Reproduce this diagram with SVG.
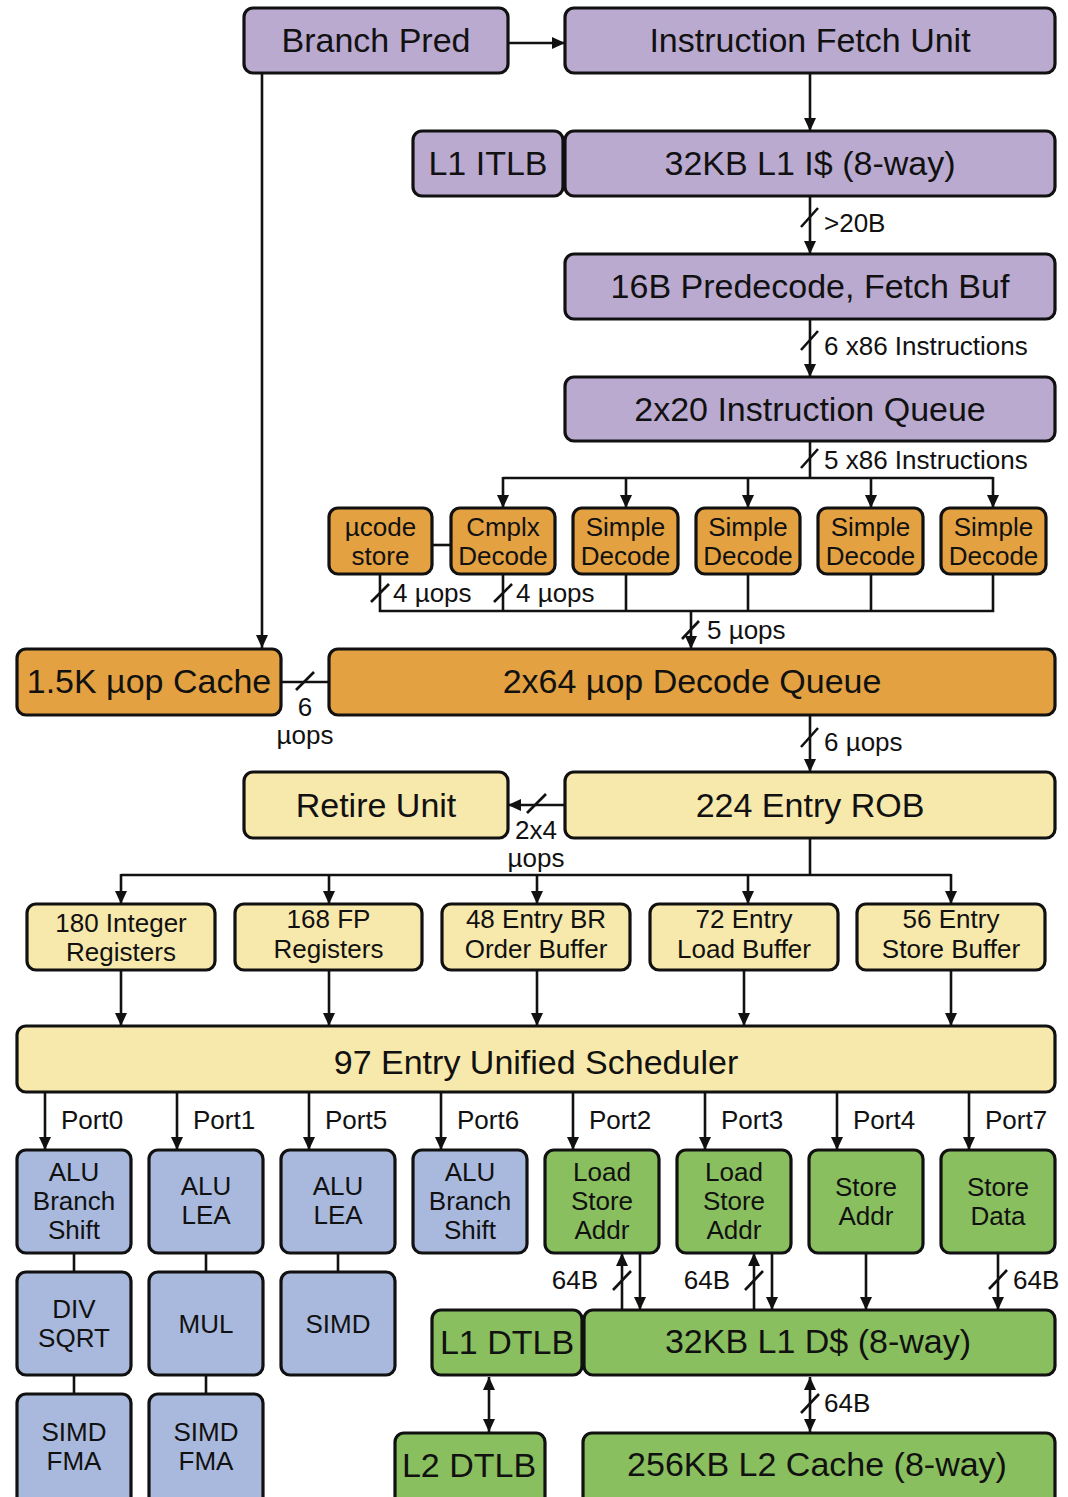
<svg xmlns="http://www.w3.org/2000/svg" width="1068" height="1497" viewBox="0 0 1068 1497">
  <defs>
    <marker id="arrow" viewBox="0 0 13 12" refX="13" refY="6" markerWidth="13" markerHeight="12" markerUnits="userSpaceOnUse" orient="auto-start-reverse">
      <path d="M0,0 L13,6 L0,12 z" fill="#111"/>
    </marker>
    <style>
      .box { stroke: #111; stroke-width: 3.2; }
      .purple { fill: #BAAAD0; }
      .orange { fill: #E3A141; }
      .yellow { fill: #F7E8AB; }
      .blue { fill: #A9B9DD; }
      .green { fill: #89BF5E; }
      text { font-family: "Liberation Sans", Arial, sans-serif; fill: #111; }
      .big { font-size: 34px; text-anchor: middle; }
      .mid { font-size: 26px; text-anchor: middle; }
      .lbl { font-size: 26px; }
      .lblr { font-size: 26px; text-anchor: end; }
      .wire { stroke: #111; stroke-width: 2.6; fill: none; }
      .arr { stroke: #111; stroke-width: 2.6; fill: none; marker-end: url(#arrow); }
      .darr { stroke: #111; stroke-width: 2.6; fill: none; marker-end: url(#arrow); marker-start: url(#arrow); }
      .slash { stroke: #111; stroke-width: 2.6; }
    </style>
  </defs>

  <!-- Front end -->
  <g id="branch-pred"><rect class="box purple" x="244" y="8" width="264" height="65" rx="9"/><text class="big" x="376" y="52">Branch Pred</text></g>
  <g id="fetch-unit"><rect class="box purple" x="565" y="8" width="490" height="65" rx="9"/><text class="big" x="810" y="52">Instruction Fetch Unit</text></g>
  <g id="l1-itlb"><rect class="box purple" x="413" y="131" width="150" height="65" rx="9"/><text class="big" x="488" y="175">L1 ITLB</text></g>
  <g id="l1-icache"><rect class="box purple" x="565" y="131" width="490" height="65" rx="9"/><text class="big" x="810" y="175">32KB L1 I$ (8-way)</text></g>
  <g id="predecode"><rect class="box purple" x="565" y="254" width="490" height="65" rx="9"/><text class="big" x="810" y="298">16B Predecode, Fetch Buf</text></g>
  <g id="inst-queue"><rect class="box purple" x="565" y="377" width="490" height="64" rx="9"/><text class="big" x="810" y="420.5">2x20 Instruction Queue</text></g>

  <!-- Decoders -->
  <g id="ucode-store"><rect class="box orange" x="329" y="508" width="103" height="66" rx="9"/><text class="mid" x="380.5" y="536">µcode</text><text class="mid" x="380.5" y="564.5">store</text></g>
  <g id="complex-decode"><rect class="box orange" x="451" y="508" width="104" height="66" rx="9"/><text class="mid" x="503" y="536">Cmplx</text><text class="mid" x="503" y="564.5">Decode</text></g>
  <g id="simple-decode-1"><rect class="box orange" x="573" y="508" width="105" height="66" rx="9"/><text class="mid" x="625.5" y="536">Simple</text><text class="mid" x="625.5" y="564.5">Decode</text></g>
  <g id="simple-decode-2"><rect class="box orange" x="696" y="508" width="104" height="66" rx="9"/><text class="mid" x="748" y="536">Simple</text><text class="mid" x="748" y="564.5">Decode</text></g>
  <g id="simple-decode-3"><rect class="box orange" x="818" y="508" width="105" height="66" rx="9"/><text class="mid" x="870.5" y="536">Simple</text><text class="mid" x="870.5" y="564.5">Decode</text></g>
  <g id="simple-decode-4"><rect class="box orange" x="941" y="508" width="105" height="66" rx="9"/><text class="mid" x="993.5" y="536">Simple</text><text class="mid" x="993.5" y="564.5">Decode</text></g>
  <g id="uop-cache"><rect class="box orange" x="17" y="649" width="264" height="66" rx="9"/><text class="big" x="149" y="693">1.5K µop Cache</text></g>
  <g id="decode-queue"><rect class="box orange" x="329" y="649" width="726" height="66" rx="9"/><text class="big" x="692" y="693">2x64 µop Decode Queue</text></g>

  <!-- Out-of-order engine -->
  <g id="retire-unit"><rect class="box yellow" x="244" y="772" width="264" height="66" rx="9"/><text class="big" x="376" y="816.5">Retire Unit</text></g>
  <g id="rob"><rect class="box yellow" x="565" y="772" width="490" height="66" rx="9"/><text class="big" x="810" y="816.5">224 Entry ROB</text></g>
  <g id="int-regs"><rect class="box yellow" x="27" y="904" width="188" height="66" rx="9"/><text class="mid" x="121" y="932">180 Integer</text><text class="mid" x="121" y="961">Registers</text></g>
  <g id="fp-regs"><rect class="box yellow" x="235" y="904" width="187" height="66" rx="9"/><text class="mid" x="328.5" y="928">168 FP</text><text class="mid" x="328.5" y="957.5">Registers</text></g>
  <g id="br-order"><rect class="box yellow" x="442" y="904" width="188" height="66" rx="9"/><text class="mid" x="536" y="928">48 Entry BR</text><text class="mid" x="536" y="957.5">Order Buffer</text></g>
  <g id="load-buffer"><rect class="box yellow" x="650" y="904" width="188" height="66" rx="9"/><text class="mid" x="744" y="928">72 Entry</text><text class="mid" x="744" y="957.5">Load Buffer</text></g>
  <g id="store-buffer"><rect class="box yellow" x="857" y="904" width="188" height="66" rx="9"/><text class="mid" x="951" y="928">56 Entry</text><text class="mid" x="951" y="957.5">Store Buffer</text></g>
  <g id="scheduler"><rect class="box yellow" x="17" y="1026" width="1038" height="66" rx="9"/><text class="big" x="536" y="1073.5">97 Entry Unified Scheduler</text></g>

  <!-- Execution units -->
  <g id="p0-alu"><rect class="box blue" x="17" y="1150" width="114" height="103" rx="9"/><text class="mid" x="74" y="1181">ALU</text><text class="mid" x="74" y="1210">Branch</text><text class="mid" x="74" y="1239">Shift</text></g>
  <g id="p1-alu"><rect class="box blue" x="149" y="1150" width="114" height="103" rx="9"/><text class="mid" x="206" y="1195">ALU</text><text class="mid" x="206" y="1224">LEA</text></g>
  <g id="p5-alu"><rect class="box blue" x="281" y="1150" width="114" height="103" rx="9"/><text class="mid" x="338" y="1195">ALU</text><text class="mid" x="338" y="1224">LEA</text></g>
  <g id="p6-alu"><rect class="box blue" x="413" y="1150" width="114" height="103" rx="9"/><text class="mid" x="470" y="1181">ALU</text><text class="mid" x="470" y="1210">Branch</text><text class="mid" x="470" y="1239">Shift</text></g>
  <g id="p2-agu"><rect class="box green" x="545" y="1150" width="114" height="103" rx="9"/><text class="mid" x="602" y="1181">Load</text><text class="mid" x="602" y="1210">Store</text><text class="mid" x="602" y="1239">Addr</text></g>
  <g id="p3-agu"><rect class="box green" x="677" y="1150" width="114" height="103" rx="9"/><text class="mid" x="734" y="1181">Load</text><text class="mid" x="734" y="1210">Store</text><text class="mid" x="734" y="1239">Addr</text></g>
  <g id="p4-store-addr"><rect class="box green" x="809" y="1150" width="114" height="103" rx="9"/><text class="mid" x="866" y="1196">Store</text><text class="mid" x="866" y="1225">Addr</text></g>
  <g id="p7-store-data"><rect class="box green" x="941" y="1150" width="114" height="103" rx="9"/><text class="mid" x="998" y="1196">Store</text><text class="mid" x="998" y="1225">Data</text></g>
  <g id="p0-div"><rect class="box blue" x="17" y="1272" width="114" height="103" rx="9"/><text class="mid" x="74" y="1318">DIV</text><text class="mid" x="74" y="1347">SQRT</text></g>
  <g id="p1-mul"><rect class="box blue" x="149" y="1272" width="114" height="103" rx="9"/><text class="mid" x="206" y="1333">MUL</text></g>
  <g id="p5-simd"><rect class="box blue" x="281" y="1272" width="114" height="103" rx="9"/><text class="mid" x="338" y="1333">SIMD</text></g>
  <g id="p0-fma"><rect class="box blue" x="17" y="1394" width="114" height="115" rx="9"/><text class="mid" x="74" y="1441">SIMD</text><text class="mid" x="74" y="1470">FMA</text></g>
  <g id="p1-fma"><rect class="box blue" x="149" y="1394" width="114" height="115" rx="9"/><text class="mid" x="206" y="1441">SIMD</text><text class="mid" x="206" y="1470">FMA</text></g>

  <!-- Memory subsystem -->
  <g id="l1-dtlb"><rect class="box green" x="432" y="1310" width="150" height="65" rx="9"/><text class="big" x="507" y="1353.5">L1 DTLB</text></g>
  <g id="l1-dcache"><rect class="box green" x="584" y="1310" width="471" height="65" rx="9"/><text class="big" x="818" y="1352.5">32KB L1 D$ (8-way)</text></g>
  <g id="l2-dtlb"><rect class="box green" x="395" y="1433" width="150" height="76" rx="9"/><text class="big" x="469" y="1476.5">L2 DTLB</text></g>
  <g id="l2-cache"><rect class="box green" x="583" y="1433" width="472" height="76" rx="9"/><text class="big" x="817" y="1475.5">256KB L2 Cache (8-way)</text></g>

  <g id="connectors">
    <!-- fetch path -->
    <line class="arr" x1="508" y1="43" x2="565" y2="43"/>
    <line class="arr" x1="262" y1="73" x2="262" y2="648"/>
    <line class="arr" x1="810" y1="73" x2="810" y2="131"/>
    <line class="arr" x1="810" y1="196" x2="810" y2="254"/>
    <line class="slash" x1="801" y1="227" x2="818" y2="208"/>
    <text class="lbl" x="824" y="232">&gt;20B</text>
    <line class="arr" x1="810" y1="319" x2="810" y2="377"/>
    <line class="slash" x1="801" y1="350" x2="818" y2="331"/>
    <text class="lbl" x="824" y="355">6 x86 Instructions</text>

    <!-- instruction queue to decoders -->
    <polyline class="wire" points="810,441 810,478"/>
    <line class="slash" x1="801" y1="468" x2="818" y2="449"/>
    <text class="lbl" x="824" y="469">5 x86 Instructions</text>
    <line class="wire" x1="503" y1="478" x2="993" y2="478"/>
    <line class="arr" x1="503" y1="477" x2="503" y2="508"/>
    <line class="arr" x1="626" y1="477" x2="626" y2="508"/>
    <line class="arr" x1="748" y1="477" x2="748" y2="508"/>
    <line class="arr" x1="871" y1="477" x2="871" y2="508"/>
    <line class="arr" x1="993" y1="477" x2="993" y2="508"/>
    <line class="wire" x1="432" y1="545" x2="451" y2="545"/>

    <!-- decoders to decode queue -->
    <polyline class="wire" points="380,574 380,611 993,611 993,574"/>
    <line class="wire" x1="503" y1="574" x2="503" y2="611"/>
    <line class="wire" x1="626" y1="574" x2="626" y2="611"/>
    <line class="wire" x1="748" y1="574" x2="748" y2="611"/>
    <line class="wire" x1="871" y1="574" x2="871" y2="611"/>
    <line class="slash" x1="371" y1="602" x2="389" y2="584"/>
    <text class="lbl" x="393" y="602">4 µops</text>
    <line class="slash" x1="494" y1="602" x2="512" y2="584"/>
    <text class="lbl" x="516" y="602">4 µops</text>
    <line class="arr" x1="691" y1="610" x2="691" y2="649"/>
    <line class="slash" x1="682" y1="639" x2="699" y2="621"/>
    <text class="lbl" x="707" y="639">5 µops</text>

    <!-- uop cache to decode queue -->
    <line class="wire" x1="281" y1="682" x2="329" y2="682"/>
    <line class="slash" x1="296" y1="690" x2="314" y2="672"/>
    <text class="mid" x="305" y="716">6</text>
    <text class="mid" x="305" y="744">µops</text>

    <!-- decode queue to ROB, ROB to retire -->
    <line class="arr" x1="810" y1="715" x2="810" y2="772"/>
    <line class="slash" x1="801" y1="747" x2="818" y2="728"/>
    <text class="lbl" x="824" y="751">6 µops</text>
    <line class="arr" x1="565" y1="805" x2="508" y2="805"/>
    <line class="slash" x1="527" y1="813" x2="546" y2="794"/>
    <text class="mid" x="536" y="839">2x4</text>
    <text class="mid" x="536" y="867">µops</text>

    <!-- ROB to rename resources -->
    <polyline class="wire" points="810,838 810,875"/>
    <line class="wire" x1="121" y1="875" x2="951" y2="875"/>
    <line class="arr" x1="121" y1="874" x2="121" y2="904"/>
    <line class="arr" x1="329" y1="874" x2="329" y2="904"/>
    <line class="arr" x1="537" y1="874" x2="537" y2="904"/>
    <line class="arr" x1="748" y1="874" x2="748" y2="904"/>
    <line class="arr" x1="951" y1="874" x2="951" y2="904"/>

    <!-- rename resources to scheduler -->
    <line class="arr" x1="121" y1="970" x2="121" y2="1026"/>
    <line class="arr" x1="329" y1="970" x2="329" y2="1026"/>
    <line class="arr" x1="537" y1="970" x2="537" y2="1026"/>
    <line class="arr" x1="744" y1="970" x2="744" y2="1026"/>
    <line class="arr" x1="951" y1="970" x2="951" y2="1026"/>

    <!-- scheduler ports -->
    <line class="arr" x1="45" y1="1092" x2="45" y2="1150"/>
    <line class="arr" x1="177" y1="1092" x2="177" y2="1150"/>
    <line class="arr" x1="309" y1="1092" x2="309" y2="1150"/>
    <line class="arr" x1="441" y1="1092" x2="441" y2="1150"/>
    <line class="arr" x1="573" y1="1092" x2="573" y2="1150"/>
    <line class="arr" x1="705" y1="1092" x2="705" y2="1150"/>
    <line class="arr" x1="837" y1="1092" x2="837" y2="1150"/>
    <line class="arr" x1="969" y1="1092" x2="969" y2="1150"/>
    <text class="lbl" x="61" y="1128.5">Port0</text>
    <text class="lbl" x="193" y="1128.5">Port1</text>
    <text class="lbl" x="325" y="1128.5">Port5</text>
    <text class="lbl" x="457" y="1128.5">Port6</text>
    <text class="lbl" x="589" y="1128.5">Port2</text>
    <text class="lbl" x="721" y="1128.5">Port3</text>
    <text class="lbl" x="853" y="1128.5">Port4</text>
    <text class="lbl" x="985" y="1128.5">Port7</text>

    <!-- execution stacks -->
    <line class="wire" x1="74" y1="1253" x2="74" y2="1272"/>
    <line class="wire" x1="206" y1="1253" x2="206" y2="1272"/>
    <line class="wire" x1="338" y1="1253" x2="338" y2="1272"/>
    <line class="wire" x1="74" y1="1375" x2="74" y2="1394"/>
    <line class="wire" x1="206" y1="1375" x2="206" y2="1394"/>

    <!-- load/store data paths -->
    <line class="arr" x1="622" y1="1310" x2="622" y2="1253"/>
    <line class="arr" x1="640" y1="1253" x2="640" y2="1310"/>
    <line class="slash" x1="613" y1="1290" x2="631" y2="1271"/>
    <text class="lblr" x="598" y="1289">64B</text>
    <line class="arr" x1="754" y1="1310" x2="754" y2="1253"/>
    <line class="arr" x1="772" y1="1253" x2="772" y2="1310"/>
    <line class="slash" x1="745" y1="1290" x2="763" y2="1271"/>
    <text class="lblr" x="730" y="1289">64B</text>
    <line class="arr" x1="866" y1="1253" x2="866" y2="1310"/>
    <line class="arr" x1="998" y1="1253" x2="998" y2="1310"/>
    <line class="slash" x1="989" y1="1289" x2="1007" y2="1270"/>
    <text class="lbl" x="1013" y="1289">64B</text>

    <!-- TLB and L2 links -->
    <line class="darr" x1="489" y1="1377" x2="489" y2="1432"/>
    <line class="darr" x1="810" y1="1377" x2="810" y2="1432"/>
    <line class="slash" x1="801" y1="1413" x2="819" y2="1394"/>
    <text class="lbl" x="824" y="1412">64B</text>
  </g>
</svg>
